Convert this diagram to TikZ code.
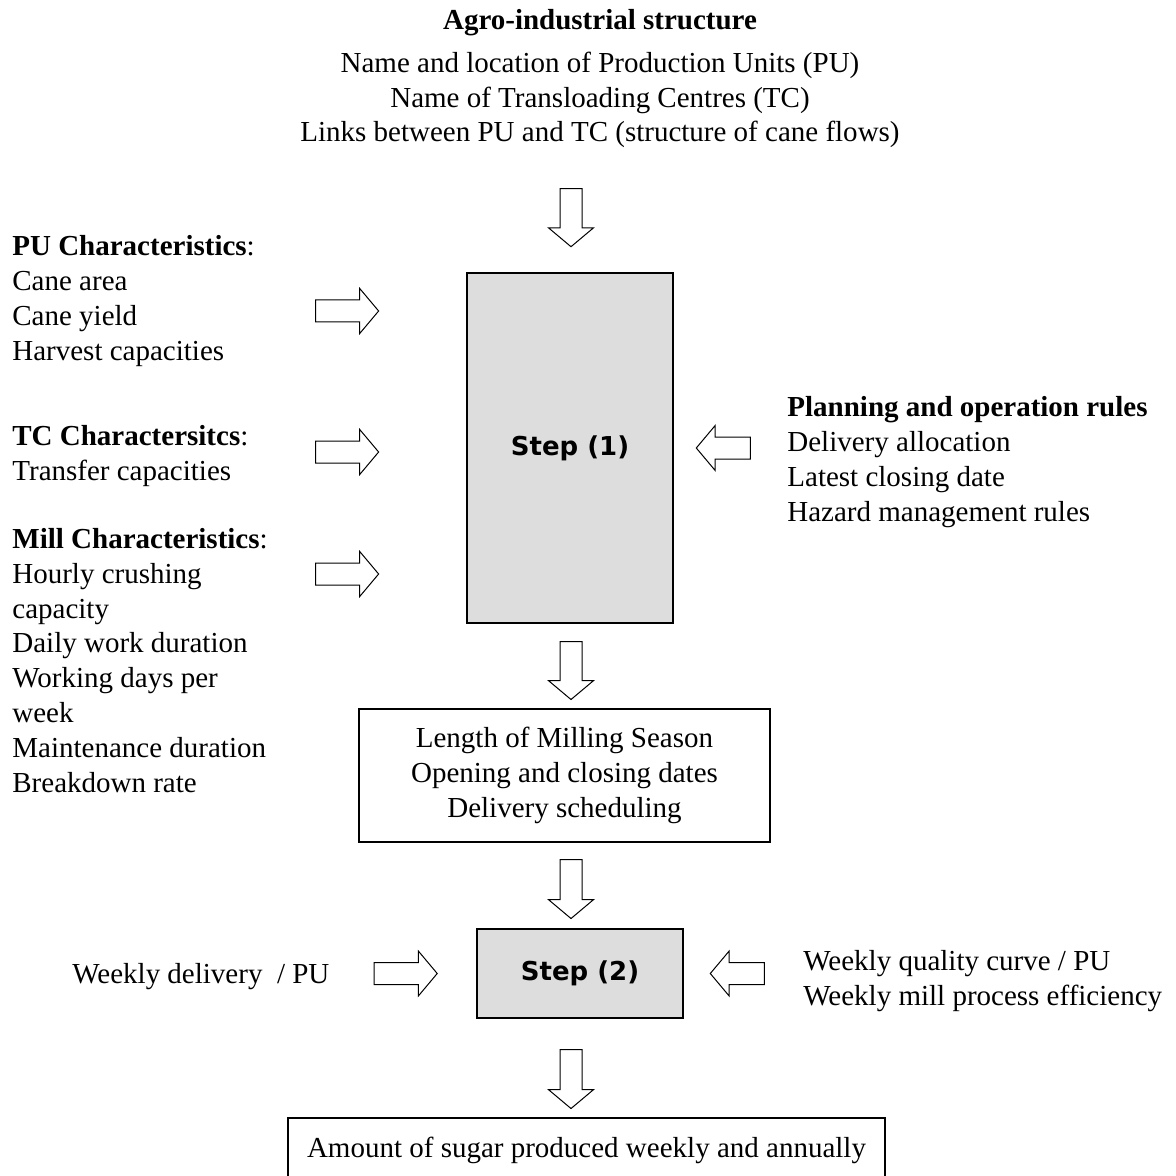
\documentclass[tikz,border=0pt]{standalone}
\usepackage{fontspec}
\setmainfont{Liberation Serif}
\newfontfamily\stepfont{DejaVu Sans}
\usetikzlibrary{calc,shapes.arrows}

\definecolor{stepgray}{HTML}{DDDDDD}

\tikzset{
  txt/.style={font=\fontsize{14.5}{17.4}\selectfont, inner sep=0pt, align=left},
  stepbox/.style={draw, line width=0.9pt, fill=stepgray, font=\stepfont\bfseries\fontsize{13}{15}\selectfont},
  outbox/.style={draw, line width=0.9pt, fill=white, font=\fontsize{14.5}{17.4}\selectfont, align=center},
  fatarrow/.style={single arrow, draw, fill=white, line width=0.5pt,
    inner xsep=0pt, inner ysep=5.25pt, text height=0pt, text depth=0pt,
    single arrow head extend=5.75pt, single arrow tip angle=100, minimum height=#1}
}

\begin{document}
\begin{tikzpicture}[x=0.5pt,y=-0.5pt]
        \useasboundingbox (0,0) rectangle (1176,1176);

        % Agro-industrial structure (base = last line)
        \node (links) at (600,142) [txt, anchor=base, align=center] {Name and location of Production Units (PU)\\Name of Transloading Centres (TC)\\Links between PU and TC (structure of cane flows)};
        \node (agro) at ($(links.base)+(0,-112)$) [txt, anchor=base, font=\fontsize{14.5}{17.4}\selectfont\bfseries] {Agro-industrial structure};

        % Step 1
        \node (step1) at (570,448) [stepbox, minimum width=103pt, minimum height=175pt] {Step (1)};

        % Characteristics
        \node (pu) at (12,360) [txt, anchor=base west] {\textbf{PU Characteristics}:\\Cane area\\Cane yield\\Harvest capacities};
        \node (tc) at (12,480) [txt, anchor=base west] {\textbf{TC Charactersitcs}:\\Transfer capacities};
        \node (mill) at (12,792) [txt, anchor=base west] {\textbf{Mill Characteristics}:\\Hourly crushing\\capacity\\Daily work duration\\Working days per\\week\\Maintenance duration\\Breakdown rate};

        % Rules
        \node (rules) at (787,521) [txt, anchor=base west] {\textbf{Planning and operation rules}\\Delivery allocation\\Latest closing date\\Hazard management rules};

        % Milling season
        \node (season) at (564.5,775.5) [outbox, minimum width=205.5pt, minimum height=66.5pt] {Length of Milling Season\\Opening and closing dates\\Delivery scheduling};

        % Step 2
        \node (step2) at (580,973.5) [stepbox, minimum width=103pt, minimum height=44.5pt] {Step (2)};
        \node (delivery) at (72,983) [txt, anchor=base west] {Weekly delivery\ \ / PU};
        \node (quality) at (803,1005) [txt, anchor=base west] {Weekly quality curve / PU\\Weekly mill process efficiency};

        % Sugar
        \node (sugar) at (586.5,1150) [outbox, minimum width=298.5pt, minimum height=32pt] {Amount of sugar produced weekly and annually};

        % Arrows
        \node (a_agro) at ($(step1.north)+(1,-59)$) [fatarrow=29pt, rotate=-90] {};
        \node (a_pu) at (342.5,311) [fatarrow=31.5pt] {};
        \node (a_tc) at (342.5,452) [fatarrow=31.5pt] {};
        \node (a_mill) at (342.5,574) [fatarrow=31.5pt] {};
        \node (a_rules) at ($(step1.east)+(54,0)$) [fatarrow=27pt, rotate=180] {};
        \node (a_season) at ($(step1.south)+(1,42)$) [fatarrow=29pt, rotate=-90] {};
        \node (a_step2) at ($(season.south)+(6.5,41.5)$) [fatarrow=29.5pt, rotate=-90] {};
        \node (a_delivery) at ($(step2.west)+(-75,0)$) [fatarrow=31.5pt] {};
        \node (a_quality) at ($(step2.east)+(58,0)$) [fatarrow=27pt, rotate=180] {};
        \node (a_sugar) at ($(step2.south)+(-9,55.5)$) [fatarrow=29.5pt, rotate=-90] {};

    \end{tikzpicture}
\end{document}
